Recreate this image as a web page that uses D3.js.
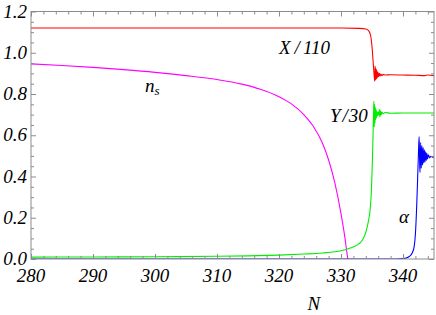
<!DOCTYPE html>
<html><head><meta charset="utf-8">
<script src="https://cdn.jsdelivr.net/npm/d3@7"></script>
<style>body{margin:0;background:#fff}svg{display:block}text{font-family:"Liberation Serif","Times New Roman",serif;font-style:italic;fill:#000}</style>
</head><body>
<svg id="c" width="436" height="315"></svg>
<script>
const xTicks = [280, 290, 300, 310, 320, 330, 340];
const yTicks = [0.0, 0.2, 0.4, 0.6, 0.8, 1.0, 1.2];
const xTickLabels = ["280","290","300","310","320","330","340"];
const yTickLabels = ["0.0","0.2","0.4","0.6","0.8","1.0","1.2"];

const xN = [280,300,320,330,333,334,334.5,334.8,335.0,335.2,335.35,335.45,335.5,335.55,335.6,335.65,335.7,335.75,335.8,335.85,335.9,335.95,336.0,336.1,336.2,336.3,336.45,336.6,336.8,337.2,338,340,342,343.5,344,345];
const xVal = [1.12,1.12,1.12,1.12,1.118,1.115,1.105,1.08,1.03,0.95,0.89,0.862,0.935,0.868,0.925,0.872,0.918,0.876,0.912,0.879,0.907,0.882,0.903,0.885,0.9,0.887,0.897,0.889,0.895,0.892,0.893,0.892,0.891,0.889,0.892,0.889];

const nsN = [280,285,290,295,300,305,310,314,317,320,322,324,325.5,327,328,329,330,330.6,331.1,331.4];
const nsVal = [0.946,0.938,0.929,0.918,0.905,0.889,0.870,0.848,0.823,0.787,0.752,0.70,0.645,0.562,0.48,0.37,0.22,0.11,0.0,-0.05];

const yN = [280,290,300,310,315,320,324,327,329,330.5,331.5,332.5,333.2,333.7,334.1,334.4,334.7,334.9,335.05,335.15,335.25,335.3,335.36,335.42,335.48,335.54,335.6,335.66,335.72,335.8,335.9,336.0,336.1,336.2,336.25,336.3,336.35,336.4,336.5,336.6,336.8,337.1,338,340,345];
const yVal = [0.009,0.010,0.011,0.013,0.015,0.019,0.024,0.029,0.035,0.044,0.053,0.066,0.082,0.105,0.14,0.18,0.24,0.33,0.46,0.58,0.71,0.765,0.64,0.75,0.66,0.735,0.675,0.725,0.685,0.715,0.695,0.712,0.698,0.725,0.69,0.722,0.694,0.716,0.7,0.712,0.704,0.71,0.707,0.708,0.708];

const aN = [280,339,340,340.5,341,341.5,341.8,342,342.2,342.35,342.5,342.6,342.7,342.75,342.85,342.95,343.05,343.15,343.25,343.35,343.45,343.55,343.65,343.75,343.85,343.95,344.1,344.3,344.5,344.8,345];
const aVal = [0,0,0.002,0.005,0.012,0.03,0.06,0.12,0.25,0.38,0.52,0.594,0.45,0.42,0.565,0.44,0.55,0.455,0.54,0.465,0.53,0.47,0.52,0.478,0.512,0.485,0.505,0.49,0.498,0.494,0.495];

const svg = d3.select("#c");
const L = 31, R = 434, T = 11.5, B = 259;
const x = d3.scaleLinear().domain([280, 345]).range([L, R]);
const y = d3.scaleLinear().domain([0, 1.2]).range([B, T]);

svg.append("clipPath").attr("id","clip").append("rect").attr("x",L).attr("y",T).attr("width",R-L).attr("height",B-T);

const g = svg.append("g").attr("clip-path","url(#clip)");
const line = d3.line().x(d=>x(d[0])).y(d=>y(d[1])).curve(d3.curveMonotoneX);
function draw(ns, vs, col){
  g.append("path").datum(ns.map((n,i)=>[n,vs[i]])).attr("d", line)
   .attr("fill","none").attr("stroke",col).attr("stroke-width",1.1).attr("stroke-linejoin","round");
}
draw(nsN, nsVal, "#ff00ff");
draw(yN, yVal, "#00ee00");
draw(aN, aVal, "#0000ff");
draw(xN, xVal, "#ff0000");

// frame
const fc = "#8c8c8c";
svg.append("rect").attr("x",L).attr("y",T).attr("width",R-L).attr("height",B-T).attr("fill","none").attr("stroke",fc).attr("stroke-width",1);

// ticks
const xMinor = d3.range(280, 345.01, 2).filter(v=>v%10!==0);
const xAxB = d3.axisBottom(x).tickValues(xTicks).tickSize(-5).tickFormat("");
const xAxT = d3.axisTop(x).tickValues(xTicks).tickSize(-5).tickFormat("");
const xAxBm = d3.axisBottom(x).tickValues(xMinor).tickSize(-3).tickFormat("");
const xAxTm = d3.axisTop(x).tickValues(xMinor).tickSize(-3).tickFormat("");
[[xAxB,B],[xAxBm,B],[xAxT,T],[xAxTm,T]].forEach(([ax,yy])=>{
  const a = svg.append("g").attr("transform",`translate(0,${yy})`).call(ax);
  a.select(".domain").remove(); a.selectAll("line").attr("stroke",fc);
});
const yMinor = d3.range(0, 1.2001, 0.05).filter(v=>Math.abs(v/0.2-Math.round(v/0.2))>1e-6);
const yAxL = d3.axisLeft(y).tickValues(yTicks).tickSize(-5).tickFormat("");
const yAxR = d3.axisRight(y).tickValues(yTicks).tickSize(-5).tickFormat("");
const yAxLm = d3.axisLeft(y).tickValues(yMinor).tickSize(-3).tickFormat("");
const yAxRm = d3.axisRight(y).tickValues(yMinor).tickSize(-3).tickFormat("");
[[yAxL,L],[yAxLm,L],[yAxR,R],[yAxRm,R]].forEach(([ax,xx])=>{
  const a = svg.append("g").attr("transform",`translate(${xx},0)`).call(ax);
  a.select(".domain").remove(); a.selectAll("line").attr("stroke",fc);
});

// tick labels
const fs = 19;
svg.append("g").selectAll("text").data(xTicks).join("text")
  .attr("x", d=>x(d)).attr("y", 282).attr("text-anchor","middle").attr("font-size",fs)
  .text((d,i)=>xTickLabels[i]);
svg.append("g").selectAll("text").data(yTicks).join("text")
  .attr("x", 27).attr("y", d=>y(d)+6).attr("text-anchor","end").attr("font-size",fs)
  .text((d,i)=>yTickLabels[i]);

svg.append("text").attr("x", x(325.6)).attr("y", 310).attr("text-anchor","middle").attr("font-size",fs).text("N");

// curve labels
const xl = svg.append("text").attr("x",279).attr("y",54).attr("font-size",fs);
xl.append("tspan").text("X");
xl.append("tspan").attr("dx",4).text("/");
xl.append("tspan").attr("dx",3).text("110");
const ns = svg.append("text").attr("x",145).attr("y",91.5).attr("font-size",fs);
ns.append("tspan").text("n");
ns.append("tspan").attr("font-size",13).attr("dy",3).text("s");
const yl = svg.append("text").attr("x",330).attr("y",121.5).attr("font-size",fs);
yl.append("tspan").text("Y");
yl.append("tspan").attr("dx",2).text("/");
yl.append("tspan").attr("dx",1).text("30");
svg.append("text").attr("x",399).attr("y",222.5).attr("font-size",fs).text("α");
</script>
</body></html>
